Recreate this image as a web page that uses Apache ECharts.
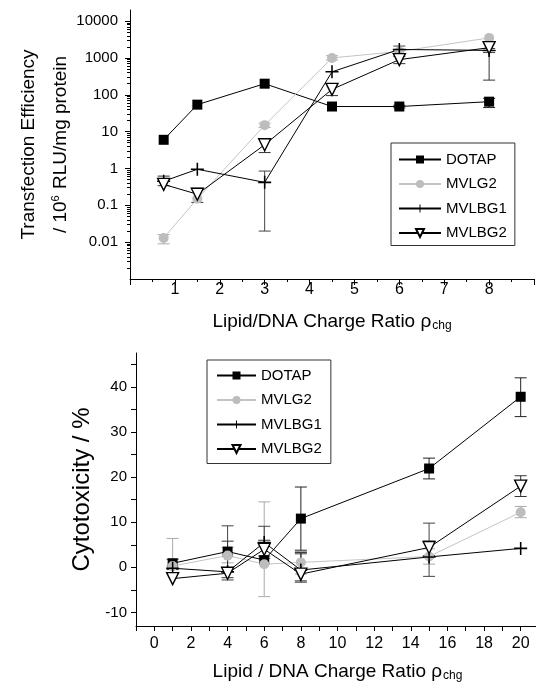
<!DOCTYPE html>
<html>
<head>
<meta charset="utf-8">
<script src="https://cdn.jsdelivr.net/npm/echarts@6/dist/echarts.min.js"></script>
<style>
  html, body { margin: 0; padding: 0; background: #fff; }
  #main { width: 536px; height: 682px; }
</style>
</head>
<body>
<div id="main"></div>
<script>
// top panel: transfection efficiency (log scale)
var topX = [0.75, 1.5, 3, 4.5, 6, 8];
var topDOTAP = [6, 54, 200, 48, 48, 65];
var topMVLG2 = [0.013, 0.15, 15, 1000, 1500, 3500];
var topMVLBG1 = [0.45, 0.95, 0.42, 420, 1700, 1600];
var topMVLBG2 = [0.37, 0.2, 4.4, 140, 900, 1900];
// error bars, [low, high] per point, null = none drawn
var topErrDOTAP = [null, null, null, null, [44, 52], [45, 80]];
var topErrMVLG2 = [[0.009, 0.016], null, [13, 17], [880, 1150], null, null];
var topErrMVLBG1 = [null, null, [0.02, 0.85], null, [1600, 2100], [1400, 1800]];
var topErrMVLBG2 = [[0.34, 0.62], [0.12, 0.29], [2.7, 6.5], [95, 200], [700, 1100], [250, 2600]];
var topYLabels = [0.01, 0.1, 1, 10, 100, 1000, 10000];
var topXLabels = [1, 2, 3, 4, 5, 6, 7, 8];

// bottom panel: cytotoxicity
var botX = [1, 4, 6, 8, 15, 20];
var botDOTAP = [0.9, 3.5, 1.6, 10.8, 21.9, 37.8];
var botMVLG2 = [0.3, 2.6, 0.7, 1.1, 2.4, 12.2];
var botMVLBG1 = [-0.2, -1.0, 5.5, -0.6, 2.3, 4.2];
var botMVLBG2 = [-2.5, -1.3, 4.0, -1.5, 4.4, 18];
var botErrDOTAP = [[-0.5, 1.8], null, null, [3.8, 17.8], [19.6, 24.2], [33.4, 42]];
var botErrMVLG2 = [[0.3, 6.4], [1.0, 4.4], [-6.5, 14.5], [-1.5, 3.5], [0.7, 4.1], [11, 13.5]];
var botErrMVLBG1 = [null, [-2.8, 9.2], [2.0, 9.1], [-3.3, 3.0], [-2.0, 9.8], null];
var botErrMVLBG2 = [null, [-2.3, 5.8], [2.5, 6.0], [-3.0, 3.3], [2.6, 5.8], [15.7, 20.3]];
var botYLabels = [-10, 0, 10, 20, 30, 40];
var botYTicks = [-10, -5, 0, 5, 10, 15, 20, 25, 30, 35, 40, 45];
var botXLabels = [0, 2, 4, 6, 8, 10, 12, 14, 16, 18, 20];

var FONT = 'Liberation Sans, Arial, sans-serif';
var plusPath = 'path://M4.4,0 H5.6 V4.4 H10 V5.6 H5.6 V10 H4.4 V5.6 H0 V4.4 H4.4 Z';
var triPath = 'path://M0,0 L10,0 L5,9 Z';

var styles = {
  DOTAP: { line: '#000', symbol: 'rect', size: 10, item: { color: '#000' }, err: '#222' },
  MVLG2: { line: '#c4c4c4', symbol: 'circle', size: 10, item: { color: '#bdbdbd' }, err: '#aaa' },
  MVLBG1: { line: '#000', symbol: plusPath, size: 13, item: { color: '#000' }, err: '#444' },
  MVLBG2: { line: '#000', symbol: triPath, size: 12, item: { color: '#fff', borderColor: '#000', borderWidth: 1.4 }, err: '#333' }
};

// log minor tick positions 2..9 x 10^k
var minorLog = [];
for (var k = -3; k <= 4; k++) {
  for (var m = 2; m <= 9; m++) {
    var v = m * Math.pow(10, k);
    if (v < 20000) minorLog.push(v);
  }
}

function pairs(xs, ys) {
  return xs.map(function (x, i) { return [x, ys[i]]; });
}
function errData(xs, errs) {
  var out = [];
  errs.forEach(function (e, i) { if (e) out.push([xs[i], e[0], e[1]]); });
  return out;
}

function lineSeries(name, xs, ys, grid) {
  var s = styles[name];
  return {
    name: name, type: 'line', xAxisIndex: grid, yAxisIndex: grid === 0 ? 0 : 2,
    data: pairs(xs, ys), symbol: s.symbol, symbolSize: s.size,
    lineStyle: { color: s.line, width: 1 },
    itemStyle: s.item, z: 3
  };
}

function errSeries(name, xs, errs, grid) {
  var c = styles[name].err;
  return {
    name: name, type: 'custom', xAxisIndex: grid, yAxisIndex: grid === 0 ? 0 : 2,
    data: errData(xs, errs), z: 2, silent: true,
    renderItem: function (params, api) {
      var lo = api.coord([api.value(0), api.value(1)]);
      var hi = api.coord([api.value(0), api.value(2)]);
      var w = 6;
      var st = { stroke: c, lineWidth: 1 };
      return {
        type: 'group',
        children: [
          { type: 'line', shape: { x1: lo[0], y1: lo[1], x2: hi[0], y2: hi[1] }, style: st },
          { type: 'line', shape: { x1: lo[0] - w, y1: lo[1], x2: lo[0] + w, y2: lo[1] }, style: st },
          { type: 'line', shape: { x1: hi[0] - w, y1: hi[1], x2: hi[0] + w, y2: hi[1] }, style: st }
        ]
      };
    }
  };
}

var names = ['DOTAP', 'MVLG2', 'MVLBG1', 'MVLBG2'];
var series = [];
var topY = { DOTAP: topDOTAP, MVLG2: topMVLG2, MVLBG1: topMVLBG1, MVLBG2: topMVLBG2 };
var topE = { DOTAP: topErrDOTAP, MVLG2: topErrMVLG2, MVLBG1: topErrMVLBG1, MVLBG2: topErrMVLBG2 };
var botY = { DOTAP: botDOTAP, MVLG2: botMVLG2, MVLBG1: botMVLBG1, MVLBG2: botMVLBG2 };
var botE = { DOTAP: botErrDOTAP, MVLG2: botErrMVLG2, MVLBG1: botErrMVLBG1, MVLBG2: botErrMVLBG2 };
// line series first so the legend takes their icons
names.forEach(function (n) {
  series.push(lineSeries(n, topX, topY[n], 0));
  series.push(lineSeries(n, botX, botY[n], 1));
});
names.forEach(function (n) {
  series.push(errSeries(n, topX, topE[n], 0));
  series.push(errSeries(n, botX, botE[n], 1));
});

var axisLine = { show: true, onZero: false, lineStyle: { color: '#000', width: 1 } };
var tickLbl = { color: '#000', fontFamily: FONT, fontSize: 15 };
var xTickLbl = { color: '#000', fontFamily: FONT, fontSize: 16 };
var subRich = {
  a: { fontFamily: FONT, fontSize: 19, color: '#000' },
  s: { fontFamily: FONT, fontSize: 12, color: '#000', padding: [9, 0, 0, 1] }
};

var myChart = echarts.init(document.getElementById('main'));
myChart.setOption({
  animation: false,
  backgroundColor: '#fff',
  grid: [
    { left: 130, top: 10, width: 404, height: 269, containLabel: false, outerBoundsMode: 'none' },
    { left: 136, top: 353, width: 403, height: 273, containLabel: false, outerBoundsMode: 'none' }
  ],
  legend: [
    {
      data: names, orient: 'vertical', left: 391, top: 143,
      itemWidth: 42, itemHeight: 10, itemGap: 9.5,
      padding: [9, 8, 5, 7],
      borderColor: '#333', borderWidth: 1, borderRadius: 0,
      textStyle: { fontFamily: FONT, fontSize: 15, color: '#000' }
    },
    {
      data: names, orient: 'vertical', left: 207, top: 360,
      itemWidth: 39, itemHeight: 10, itemGap: 9.5,
      padding: [8, 9, 7, 9],
      borderColor: '#333', borderWidth: 1, borderRadius: 0,
      textStyle: { fontFamily: FONT, fontSize: 15, color: '#000' }
    }
  ],
  xAxis: [
    {
      type: 'value', gridIndex: 0, min: 0, max: 9, interval: 1,
      axisLine: axisLine, splitLine: { show: false },
      axisTick: { show: true, length: 6, lineStyle: { color: '#000' } },
      minorTick: { show: true, splitNumber: 2, length: 3, lineStyle: { color: '#000' } },
      axisLabel: Object.assign({ margin: 3, customValues: topXLabels }, xTickLbl),
      name: '{a|Lipid/DNA Charge Ratio ρ}{s|chg}', nameLocation: 'middle', nameGap: 32,
      nameMoveOverlap: false,
      nameTextStyle: { rich: subRich }
    },
    {
      type: 'value', gridIndex: 1, min: -1, max: 21, interval: 1,
      axisLine: axisLine, splitLine: { show: false },
      axisTick: { show: true, length: 5, lineStyle: { color: '#000' } },
      axisLabel: Object.assign({ margin: 10, customValues: botXLabels }, xTickLbl),
      name: '{a|Lipid / DNA Charge Ratio ρ}{s|chg}', nameLocation: 'middle', nameGap: 35,
      nameMoveOverlap: false,
      nameTextStyle: { rich: subRich }
    }
  ],
  yAxis: [
    {
      type: 'log', gridIndex: 0, min: 0.001, max: 20000, logBase: 10,
      axisLine: axisLine, splitLine: { show: false },
      axisTick: { show: true, length: 5, customValues: topYLabels, lineStyle: { color: '#000' } },
      axisLabel: Object.assign({ margin: 12, customValues: topYLabels,
        formatter: function (v) { return String(v); } }, tickLbl),
      name: '{a|Transfection Efficiency}\n{a|/ 10}{p|6}{a| RLU/mg protein}',
      nameLocation: 'middle', nameRotate: 90, nameGap: 53, nameMoveOverlap: false,
      nameTextStyle: {
        lineHeight: 32,
        rich: {
          a: { fontFamily: FONT, fontSize: 19, color: '#000', lineHeight: 32 },
          p: { fontFamily: FONT, fontSize: 11, color: '#000', padding: [0, 1, 10, 0], lineHeight: 32 }
        }
      }
    },
    {
      type: 'log', gridIndex: 0, min: 0.001, max: 20000, logBase: 10, position: 'left',
      axisLine: { show: false, onZero: false }, splitLine: { show: false },
      axisTick: { show: true, length: 3, customValues: minorLog, lineStyle: { color: '#000' } },
      axisLabel: { show: false }
    },
    {
      type: 'value', gridIndex: 1, min: -13, max: 47.5,
      axisLine: axisLine, splitLine: { show: false },
      axisTick: { show: true, length: 5, customValues: botYTicks, lineStyle: { color: '#000' } },
      axisLabel: Object.assign({ margin: 9, customValues: botYLabels }, tickLbl),
      name: 'Cytotoxicity / %', nameLocation: 'middle', nameRotate: 90, nameGap: 42,
      nameMoveOverlap: false,
      nameTextStyle: { fontFamily: FONT, fontSize: 24, color: '#000' }
    }
  ],
  series: series
});
</script>
</body>
</html>
